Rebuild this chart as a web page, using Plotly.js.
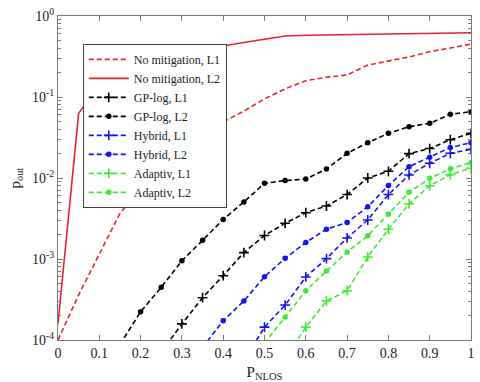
<!DOCTYPE html>
<html>
<head>
<meta charset="utf-8">
<script src="https://cdn.plot.ly/plotly-3.0.1.min.js"></script>
<style>
  html, body { margin: 0; padding: 0; background: #fff; }
  #plot { width: 480px; height: 382px; }
</style>
</head>
<body>
<div id="plot"></div>
<script>
// NLOS probability (x axis)
var pNlos = [0, 0.05, 0.1, 0.15, 0.2, 0.25, 0.3, 0.35, 0.4, 0.45, 0.5,
             0.55, 0.6, 0.65, 0.7, 0.75, 0.8, 0.85, 0.9, 0.95, 1];

// outage probability per method / link
var noMitL1 = [1e-4, 3.6e-4, 1.15e-3, 3.66e-3, 7.5e-3, 1.35e-2, 2.1e-2, 3.2e-2, 4.9e-2, 6.7e-2, 9.5e-2,
               0.126, 0.159, 0.175, 0.187, 0.248, 0.278, 0.312, 0.362, 0.399, 0.449];
var noMitL2 = [1.6e-4, 6.3e-2, 0.14, 0.2, 0.26, 0.31, 0.35, 0.39, 0.426, 0.471, 0.515,
               0.566, 0.578, 0.583, 0.591, 0.596, 0.603, 0.608, 0.613, 0.617, 0.622];
var gpL1 = [null, null, null, null, null, 7.1e-5, 1.58e-4, 3.33e-4, 6.22e-4, 1.2e-3, 1.95e-3,
            2.76e-3, 3.73e-3, 4.51e-3, 6.25e-3, 1.0e-2, 1.21e-2, 2.0e-2, 2.31e-2, 2.97e-2, 3.56e-2];
var gpL2 = [null, null, null, 8.8e-5, 2.23e-4, 4.48e-4, 9.5e-4, 1.7e-3, 3.08e-3, 5.06e-3, 8.6e-3,
            9.3e-3, 9.7e-3, 1.29e-2, 2.02e-2, 2.73e-2, 3.56e-2, 4.3e-2, 4.73e-2, 6.11e-2, 6.59e-2];
var hybL1 = [null, null, null, null, null, null, null, null, null, 5.5e-5, 1.44e-4,
             2.7e-4, 6.0e-4, 1.01e-3, 1.82e-3, 3.03e-3, 6.25e-3, 1.09e-2, 1.52e-2, 2.02e-2, 2.26e-2];
var hybL2 = [null, null, null, null, null, null, null, 8.1e-5, 1.73e-4, 3.03e-4, 6.04e-4,
             1.02e-3, 1.6e-3, 2.33e-3, 2.82e-3, 4.42e-3, 8.07e-3, 1.38e-2, 1.8e-2, 2.38e-2, 2.73e-2];
var adL1 = [null, null, null, null, null, null, null, null, null, null, null,
            5.9e-5, 1.44e-4, 3.03e-4, 4.06e-4, 1.06e-3, 2.33e-3, 4.8e-3, 8.03e-3, 1.1e-2, 1.32e-2];
var adL2 = [null, null, null, null, null, null, null, null, null, null, 9.1e-5,
            1.92e-4, 4.06e-4, 7.11e-4, 1.22e-3, 1.94e-3, 3.6e-3, 6.66e-3, 9.9e-3, 1.3e-2, 1.55e-2];

// tick labels
var xTickVals = [0, 0.1, 0.2, 0.3, 0.4, 0.5, 0.6, 0.7, 0.8, 0.9, 1];
var xTickText = ['0', '0.1', '0.2', '0.3', '0.4', '0.5', '0.6', '0.7', '0.8', '0.9', '1'];
var yTickVals = [1e-4, 1e-3, 1e-2, 1e-1, 1];
var yTickText = ['10<sup>-4</sup>', '10<sup>-3</sup>', '10<sup>-2</sup>', '10<sup>-1</sup>', '10<sup>0</sup>'];

var red = 'rgb(232,35,40)';
var blue = 'rgb(20,20,235)';
var green = 'rgb(60,235,50)';
var dashPat = '5px,3px';

function makeTrace(y, name, color, dash, symbol) {
    var t = {
        x: pNlos,
        y: y,
        name: name,
        type: 'scatter',
        mode: symbol ? 'lines+markers' : 'lines',
        line: {color: color, width: 1.6, dash: dash},
        connectgaps: false
    };
    if (symbol == 'plus') {
        t.marker = {symbol: 'cross-thin-open', size: 7, line: {color: color, width: 1.6}};
    } else if (symbol == 'dot') {
        t.marker = {symbol: 'circle', size: 5.5, color: color};
    }
    return t;
}

var data = [
    makeTrace(noMitL1, 'No mitigation, L1', red, dashPat, null),
    makeTrace(noMitL2, 'No mitigation, L2', red, 'solid', null),
    makeTrace(gpL1, 'GP-log, L1', 'black', dashPat, 'plus'),
    makeTrace(gpL2, 'GP-log, L2', 'black', dashPat, 'dot'),
    makeTrace(hybL1, 'Hybrid, L1', blue, dashPat, 'plus'),
    makeTrace(hybL2, 'Hybrid, L2', blue, dashPat, 'dot'),
    makeTrace(adL1, 'Adaptiv, L1', green, dashPat, 'plus'),
    makeTrace(adL2, 'Adaptiv, L2', green, dashPat, 'dot')
];

var axisColor = '#7a7a7a';
var serif = '"Liberation Serif", serif';

var layout = {
    width: 480,
    height: 382,
    paper_bgcolor: '#fff',
    plot_bgcolor: '#fff',
    font: {family: serif, size: 14, color: '#222'},
    showlegend: true,
    margin: {t: 16, l: 58, r: 9, b: 42},
    xaxis: {
        title: {text: 'P<sub>NLOS</sub>', font: {family: serif, size: 15}, standoff: 6},
        range: [0, 1],
        tickvals: xTickVals,
        ticktext: xTickText,
        ticks: 'inside',
        ticklen: 5,
        tickcolor: axisColor,
        showline: true,
        linecolor: axisColor,
        mirror: 'ticks',
        showgrid: false,
        zeroline: false,
        tickfont: {family: serif, size: 14}
    },
    yaxis: {
        title: {text: 'p<sub>out</sub>', font: {family: serif, size: 15}, standoff: 7},
        type: 'log',
        range: [-4, 0],
        tickvals: yTickVals,
        ticktext: yTickText,
        ticks: 'inside',
        ticklen: 5,
        tickcolor: axisColor,
        showline: true,
        linecolor: axisColor,
        mirror: 'ticks',
        showgrid: false,
        zeroline: false,
        tickfont: {family: serif, size: 14},
        minor: {tickmode: 'linear', dtick: 'D1', ticks: 'inside', ticklen: 3, tickcolor: axisColor, showgrid: false}
    },
    legend: {
        x: 0.06,
        y: 0.914,
        xanchor: 'left',
        yanchor: 'top',
        bgcolor: '#fff',
        bordercolor: '#444',
        borderwidth: 1,
        itemwidth: 40,
        tracegroupgap: 0,
        font: {family: serif, size: 12, color: '#222'}
    }
};

Plotly.newPlot('plot', data, layout, {displayModeBar: false, staticPlot: true});
</script>
</body>
</html>
